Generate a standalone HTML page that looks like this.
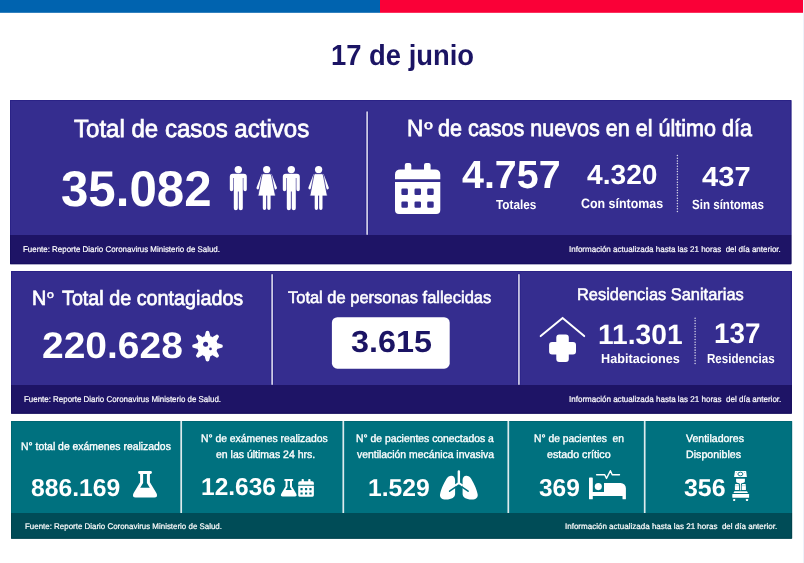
<!DOCTYPE html>
<html lang="es"><head><meta charset="utf-8"><title>Reporte Diario Coronavirus - 17 de junio</title>
<style>
html,body{margin:0;padding:0;background:#fff;}
body{width:804px;height:563px;position:relative;overflow:hidden;font-family:"Liberation Sans",sans-serif;}
.abs{position:absolute;}
.t{position:absolute;white-space:pre;line-height:1;transform-origin:0 0;display:block;text-rendering:geometricPrecision;}
svg{position:absolute;left:0;top:0;}
</style></head><body>
<svg width="804" height="563" viewBox="0 0 804 563">
<rect x="0" y="0" width="380" height="12.8" fill="#0063AF"/>
<rect x="380" y="0" width="423" height="12.8" fill="#FA0037"/>
<rect x="803" y="0" width="1" height="563" fill="#EDF2FB"/>
<rect x="10" y="100" width="781.4" height="135" fill="#352D8F"/>
<rect x="10" y="235" width="781.4" height="29.2" fill="#1E1466"/>
<rect x="11" y="271" width="780.9" height="114" fill="#352D8F"/>
<rect x="11" y="385" width="780.9" height="28.7" fill="#1E1466"/>
<rect x="11" y="421" width="781.1" height="92" fill="#00717F"/>
<rect x="11" y="513" width="781.1" height="25.7" fill="#004C57"/>
<g fill="none" stroke-width="1">
<path d="M10.5,235 V100.5 H790.9 V235" stroke="#2A2286"/>
<path d="M10.5,235 V263.7 H790.9 V235" stroke="#170F5F"/>
<path d="M11.5,385 V271.5 H791.4 V385" stroke="#2A2286"/>
<path d="M11.5,385 V413.2 H791.4 V385" stroke="#170F5F"/>
<path d="M11.5,513 V421.5 H791.6 V513" stroke="#006673"/>
<path d="M11.5,513 V538.2 H791.6 V513" stroke="#00434D"/>
</g>
<rect x="365.3" y="110.4" width="3.65" height="124.6" rx="1.6" fill="#2C2488"/>
<rect x="270.3" y="273.2" width="3.65" height="111.8" rx="1.6" fill="#2C2488"/>
<rect x="517.1" y="273.2" width="3.65" height="111.8" rx="1.6" fill="#2C2488"/>
<rect x="366.3" y="111.2" width="1.65" height="123.8" rx="0.8" fill="#D6D4EB"/>
<rect x="271.3" y="274" width="1.65" height="111" rx="0.8" fill="#D6D4EB"/>
<rect x="518.1" y="274" width="1.65" height="111" rx="0.8" fill="#D6D4EB"/>
<rect x="180.35" y="421" width="1.7" height="92" fill="#DDEBED"/>
<rect x="342.45" y="421" width="1.7" height="92" fill="#DDEBED"/>
<rect x="507.45" y="421" width="1.7" height="92" fill="#DDEBED"/>
<rect x="643.85" y="421" width="1.7" height="92" fill="#DDEBED"/>
<rect x="331.9" y="317.2" width="117.8" height="51.5" rx="5.5" fill="#fff"/>
</svg>
<svg width="804" height="563" viewBox="0 0 804 563">
<defs>
<g id="man" fill="#fff">
<circle cx="0" cy="169.6" r="3.7"/>
<path d="M-5.5,173.7 H5.5 A3,3 0 0 1 8.5,176.7 V189.5 A1.7,1.7 0 0 1 5.1,189.5 V178 H4.5 V208.2 A1.9,1.9 0 0 1 0.45,208.2 V191.5 H-0.45 V208.2 A1.9,1.9 0 0 1 -4.5,208.2 V178 H-5.1 V189.5 A1.7,1.7 0 0 1 -8.5,189.5 V176.7 A3,3 0 0 1 -5.5,173.7 Z"/>
</g>
<g id="woman" fill="#fff">
<circle cx="0" cy="169.6" r="3.65"/>
<path d="M-4.1,175.4 L-8.9,188 M4.1,175.4 L8.9,188" stroke="#fff" stroke-width="2.7" stroke-linecap="round" fill="none"/>
<path d="M-3.2,173.7 H3.2 A1.6,1.6 0 0 1 4.7,174.9 L8.8,196 H-8.8 L-4.7,174.9 A1.6,1.6 0 0 1 -3.2,173.7 Z" stroke="#352D8F" stroke-width="0.8"/>
<path d="M-3.9,195 H-0.55 V208.3 A1.67,1.67 0 0 1 -3.9,208.3 Z M0.55,195 H3.9 V208.3 A1.67,1.67 0 0 1 0.55,208.3 Z"/>
</g>
<g id="cal">
<path fill="#fff" d="M404.8,165 A2,2 0 0 1 406.8,163 H409.3 A2,2 0 0 1 411.3,165 V169.4 H424 V165 A2,2 0 0 1 426,163 H428.6 A2,2 0 0 1 430.6,165 V169.4 H435.3 A5,5 0 0 1 440.3,174.4 V179.3 H395 V174.4 A5,5 0 0 1 400,169.4 H404.8 Z"/>
<path fill="#fff" fill-rule="evenodd" d="M395,181.9 H440.3 V210 A4,4 0 0 1 436.3,214 H399 A4,4 0 0 1 395,210 Z
M402.6,188.6 h4.1 a1.2,1.2 0 0 1 1.2,1.2 v3.9 a1.2,1.2 0 0 1 -1.2,1.2 h-4.1 a1.2,1.2 0 0 1 -1.2,-1.2 v-3.9 a1.2,1.2 0 0 1 1.2,-1.2 Z
M415.7,188.6 h4.1 a1.2,1.2 0 0 1 1.2,1.2 v3.9 a1.2,1.2 0 0 1 -1.2,1.2 h-4.1 a1.2,1.2 0 0 1 -1.2,-1.2 v-3.9 a1.2,1.2 0 0 1 1.2,-1.2 Z
M428.4,188.6 h4.1 a1.2,1.2 0 0 1 1.2,1.2 v3.9 a1.2,1.2 0 0 1 -1.2,1.2 h-4.1 a1.2,1.2 0 0 1 -1.2,-1.2 v-3.9 a1.2,1.2 0 0 1 1.2,-1.2 Z
M402.6,201.4 h4.1 a1.2,1.2 0 0 1 1.2,1.2 v3.9 a1.2,1.2 0 0 1 -1.2,1.2 h-4.1 a1.2,1.2 0 0 1 -1.2,-1.2 v-3.9 a1.2,1.2 0 0 1 1.2,-1.2 Z
M415.7,201.4 h4.1 a1.2,1.2 0 0 1 1.2,1.2 v3.9 a1.2,1.2 0 0 1 -1.2,1.2 h-4.1 a1.2,1.2 0 0 1 -1.2,-1.2 v-3.9 a1.2,1.2 0 0 1 1.2,-1.2 Z
M428.4,201.4 h4.1 a1.2,1.2 0 0 1 1.2,1.2 v3.9 a1.2,1.2 0 0 1 -1.2,1.2 h-4.1 a1.2,1.2 0 0 1 -1.2,-1.2 v-3.9 a1.2,1.2 0 0 1 1.2,-1.2 Z"/>
</g>
<path id="flask" fill="#fff" fill-rule="evenodd" d="M139.5,471 h11 a1.45,1.45 0 0 1 0,2.9 h-0.6 V482.3 L156.5,493.2 Q158.3,497.4 154.3,497.4 H135.7 Q131.7,497.4 133.5,493.2 L140.1,482.3 V473.9 h-0.6 a1.45,1.45 0 0 1 0,-2.9 Z M143.1,473.9 H146.9 V483 L149.8,487.8 H140.2 L143.1,483 Z"/>
</defs>
<!-- people -->
<use href="#man" x="238.3"/><use href="#woman" x="266.7"/><use href="#man" x="291.3"/><use href="#woman" x="318.6"/>
<!-- calendar -->
<use href="#cal"/>
<!-- dotted dividers -->
<line x1="677.4" y1="155.6" x2="677.4" y2="212.4" stroke="#fff" stroke-width="1.5" stroke-dasharray="0.01,2.65" stroke-linecap="round" opacity="0.8"/>
<line x1="695.1" y1="318.2" x2="695.1" y2="365" stroke="#fff" stroke-width="1.5" stroke-dasharray="0.01,2.65" stroke-linecap="round" opacity="0.8"/>
<!-- virus -->
<g fill="#fff" transform="translate(207.5,346.1)">
<circle r="10.3"/>
<g id="spk"><path d="M-3,-9.6 L-1.95,-13.4 A1.95,1.95 0 0 1 1.95,-13.4 L3,-9.6 Z"/></g>
<use href="#spk" transform="rotate(45)"/><use href="#spk" transform="rotate(90)"/><use href="#spk" transform="rotate(135)"/><use href="#spk" transform="rotate(180)"/><use href="#spk" transform="rotate(225)"/><use href="#spk" transform="rotate(270)"/><use href="#spk" transform="rotate(315)"/>
<circle cx="-1.9" cy="-1.9" r="2.5" fill="#352D8F"/><circle cx="3" cy="2.8" r="1.3" fill="#352D8F"/>
</g>
<!-- house + cross -->
<path d="M540.7,336.1 L562.6,318 L584.2,336.1" fill="none" stroke="#fff" stroke-width="2" stroke-linecap="round" stroke-linejoin="miter"/>
<path fill="#fff" d="M559.3,334.5 H565.8 A3,3 0 0 1 568.8,337.5 V342 H573 A3,3 0 0 1 576,345 V351.4 A3,3 0 0 1 573,354.4 H568.8 V358.9 A3,3 0 0 1 565.8,361.9 H559.3 A3,3 0 0 1 556.3,358.9 V354.4 H552.1 A3,3 0 0 1 549.1,351.4 V345 A3,3 0 0 1 552.1,342 H556.3 V337.5 A3,3 0 0 1 559.3,334.5 Z"/>
<!-- flask big -->
<use href="#flask"/>
<!-- flask small + calendar small -->
<use href="#flask" transform="translate(280.9,479.1) scale(0.655) translate(-133,-471)"/>
<use href="#cal" transform="translate(298.2,479.1) scale(0.346) translate(-395,-163)"/>
<!-- lungs -->
<g fill="#fff">
<path id="lung" d="M451,475.7 C453.6,475.5 455.1,477.5 455.1,480 L455.1,494 C455.1,497 452,499.5 446,499.6 C441.5,499.6 439.4,497.5 440.1,494 C441,489 445,480.5 447.5,477.5 C448.5,476.3 449.8,475.8 451,475.7 Z"/>
<use href="#lung" transform="translate(917.7,0) scale(-1,1)"/>
<path d="M449.6,491.2 L458.85,484.8 L468.1,491.2" fill="none" stroke="#00717F" stroke-width="1.5" stroke-linecap="round"/>
<path d="M458.85,471.2 V482.8 M458.85,482.8 L454,486 M458.85,482.8 L463.7,486" fill="none" stroke="#00717F" stroke-width="3.6" stroke-linecap="round" opacity="0"/>
<path d="M458.85,471.4 V483" fill="none" stroke="#fff" stroke-width="2.4" stroke-linecap="round"/>
<path d="M458.85,483 L455,485.6 M458.85,483 L462.7,485.6" fill="none" stroke="#fff" stroke-width="2" stroke-linecap="butt"/>
</g>
<!-- bed -->
<g fill="#fff">
<path d="M589,478.2 A0.7,0.7 0 0 1 589.7,477.5 H592.1 A0.7,0.7 0 0 1 592.8,478.2 V492.1 H604 V483 H620.6 A5.3,5.3 0 0 1 625.9,488.3 V498.7 A0.6,0.6 0 0 1 625.3,499.3 H623.1 A0.6,0.6 0 0 1 622.5,498.7 V496 H592.8 V498.7 A0.6,0.6 0 0 1 592.2,499.3 H589.6 A0.6,0.6 0 0 1 589,498.7 Z"/>
<circle cx="598.3" cy="486.6" r="3.55"/>
<path d="M596.6,474.7 H604.7 L606.5,478.4 L610.4,470.7 L612.2,474.7 H619.5" fill="none" stroke="#fff" stroke-width="1.4" stroke-linecap="round" stroke-linejoin="round"/>
</g>
<!-- ventilator -->
<g fill="#fff">
<path d="M735,470.9 H746.1 L746.9,477.1 H734.1 Z"/>
<ellipse cx="740.4" cy="474" rx="2.5" ry="1.8" fill="none" stroke="#00717F" stroke-width="0.9"/>
<path d="M736.1,478.8 H744.9 V481.5 Q744.9,482.6 743.6,482.7 L741.6,483.2 Q740.9,483.5 740.9,484.5 V490.3 H739.9 V484.5 Q739.9,483.5 739.2,483.2 L737.2,482.7 Q736.1,482.6 736.1,481.5 Z"/>
<path d="M735.3,484.1 H738.6 L739,485.6 V490 H734.9 V485.6 Z M742.1,484.1 H745.5 L745.9,485.6 V490 H741.7 V485.6 Z"/>
<path d="M734.9,485.75 H739 M741.7,485.75 H745.9" stroke="#00717F" stroke-width="0.5" opacity="0.55" fill="none"/>
<circle cx="736.2" cy="472.6" r="0.35" fill="#00717F"/><circle cx="744.7" cy="472.6" r="0.35" fill="#00717F"/>
<path d="M734.4,491.3 H747 L748,493 H733.4 Z"/>
<rect x="732.3" y="494" width="16.8" height="3.7" rx="0.5"/>
<rect x="733.1" y="499" width="2.1" height="2" rx="0.4"/><rect x="745.9" y="499" width="2.2" height="2" rx="0.4"/>
</g>
</svg>

<div class="abs" id="txt" style="left:0;top:0;width:804px;height:563px;will-change:transform;">
<span class="t" style="left:330.76px;top:42.18px;font-size:29.08px;font-weight:bold;color:#1B1464;transform:scaleX(0.9420);">17 de junio</span>
<span class="t" style="left:73.52px;top:117.67px;font-size:24.85px;font-weight:normal;color:#fff;transform:scaleX(0.9677);-webkit-text-stroke:0.75px #fff;">Total de casos activos</span>
<span class="t" style="left:60.92px;top:163.76px;font-size:50.29px;font-weight:bold;color:#fff;transform:scaleX(0.9789);">35.082</span>
<span class="t" style="left:406.80px;top:117.01px;font-size:23.40px;font-weight:normal;color:#fff;transform:scaleX(0.9596);-webkit-text-stroke:0.75px #fff;">N</span>
<span class="t" style="left:423.56px;top:119.00px;font-size:12.59px;font-weight:normal;color:#fff;transform:scaleX(1.2740);-webkit-text-stroke:0.6px #fff;">o</span>
<span class="t" style="left:438.04px;top:117.01px;font-size:23.40px;font-weight:normal;color:#fff;transform:scaleX(0.9215);-webkit-text-stroke:0.75px #fff;">de casos nuevos en el último día</span>
<span class="t" style="left:462.41px;top:155.51px;font-size:39.40px;font-weight:bold;color:#fff;transform:scaleX(1.0003);">4.757</span>
<span class="t" style="left:496.08px;top:197.88px;font-size:13.08px;font-weight:bold;color:#fff;transform:scaleX(0.9000);">Totales</span>
<span class="t" style="left:586.72px;top:160.82px;font-size:27.51px;font-weight:bold;color:#fff;transform:scaleX(1.0242);">4.320</span>
<span class="t" style="left:581.30px;top:196.51px;font-size:13.52px;font-weight:bold;color:#fff;transform:scaleX(0.9191);">Con síntomas</span>
<span class="t" style="left:701.61px;top:163.22px;font-size:27.51px;font-weight:bold;color:#fff;transform:scaleX(1.0599);">437</span>
<span class="t" style="left:691.57px;top:198.43px;font-size:13.37px;font-weight:bold;color:#fff;transform:scaleX(0.8657);">Sin síntomas</span>
<span class="t" style="left:23.16px;top:245.96px;font-size:8.28px;font-weight:normal;color:#fff;transform:scaleX(0.9592);-webkit-text-stroke:0.2px #fff;">Fuente: Reporte Diario Coronavirus Ministerio de Salud.</span>
<span class="t" style="left:569.18px;top:245.96px;font-size:8.28px;font-weight:normal;color:#fff;transform:scaleX(0.9685);-webkit-text-stroke:0.2px #fff;">Información actualizada hasta las 21 horas  del día anterior.</span>
<span class="t" style="left:32.01px;top:288.76px;font-size:20.64px;font-weight:normal;color:#fff;transform:scaleX(0.9605);-webkit-text-stroke:0.68px #fff;">N</span>
<span class="t" style="left:47.41px;top:290.00px;font-size:10.58px;font-weight:normal;color:#fff;transform:scaleX(1.1614);-webkit-text-stroke:0.5px #fff;">o</span>
<span class="t" style="left:61.90px;top:288.76px;font-size:20.64px;font-weight:normal;color:#fff;transform:scaleX(0.9580);-webkit-text-stroke:0.68px #fff;">Total de contagiados</span>
<span class="t" style="left:42.43px;top:327.88px;font-size:36.96px;font-weight:bold;color:#fff;transform:scaleX(1.0545);">220.628</span>
<span class="t" style="left:287.97px;top:289.97px;font-size:16.86px;font-weight:normal;color:#fff;transform:scaleX(0.9767);-webkit-text-stroke:0.55px #fff;">Total de personas fallecidas</span>
<span class="t" style="left:350.75px;top:327.68px;font-size:30.37px;font-weight:bold;color:#1B1464;transform:scaleX(1.0656);">3.615</span>
<span class="t" style="left:576.79px;top:286.87px;font-size:16.86px;font-weight:normal;color:#fff;transform:scaleX(0.9720);-webkit-text-stroke:0.55px #fff;">Residencias Sanitarias</span>
<span class="t" style="left:598.41px;top:321.33px;font-size:28.08px;font-weight:bold;color:#fff;transform:scaleX(1.0034);">11.301</span>
<span class="t" style="left:601.14px;top:352.36px;font-size:13.23px;font-weight:bold;color:#fff;transform:scaleX(0.9574);">Habitaciones</span>
<span class="t" style="left:714.13px;top:319.67px;font-size:28.51px;font-weight:bold;color:#fff;transform:scaleX(0.9771);">137</span>
<span class="t" style="left:707.40px;top:352.36px;font-size:13.23px;font-weight:bold;color:#fff;transform:scaleX(0.8759);">Residencias</span>
<span class="t" style="left:24.36px;top:394.73px;font-size:8.43px;font-weight:normal;color:#fff;transform:scaleX(0.9417);-webkit-text-stroke:0.2px #fff;">Fuente: Reporte Diario Coronavirus Ministerio de Salud.</span>
<span class="t" style="left:569.28px;top:394.73px;font-size:8.43px;font-weight:normal;color:#fff;transform:scaleX(0.9528);-webkit-text-stroke:0.2px #fff;">Información actualizada hasta las 21 horas  del día anterior.</span>
<span class="t" style="left:20.87px;top:441.71px;font-size:11.05px;font-weight:normal;color:#fff;transform:scaleX(0.9415);-webkit-text-stroke:0.36px #fff;">N° total de exámenes realizados</span>
<span class="t" style="left:31.26px;top:477.18px;font-size:24.50px;font-weight:bold;color:#fff;transform:scaleX(1.0076);">886.169</span>
<span class="t" style="left:200.87px;top:433.83px;font-size:10.90px;font-weight:normal;color:#fff;transform:scaleX(0.9499);-webkit-text-stroke:0.36px #fff;">N° de exámenes realizados</span>
<span class="t" style="left:216.48px;top:449.63px;font-size:10.90px;font-weight:normal;color:#fff;transform:scaleX(0.9635);-webkit-text-stroke:0.36px #fff;">en las últimas 24 hrs.</span>
<span class="t" style="left:201.13px;top:476.18px;font-size:24.50px;font-weight:bold;color:#fff;transform:scaleX(1.0003);">12.636</span>
<span class="t" style="left:356.27px;top:434.13px;font-size:10.90px;font-weight:normal;color:#fff;transform:scaleX(0.9512);-webkit-text-stroke:0.36px #fff;">N° de pacientes conectados a</span>
<span class="t" style="left:357.10px;top:450.13px;font-size:10.90px;font-weight:normal;color:#fff;transform:scaleX(0.9544);-webkit-text-stroke:0.36px #fff;">ventilación mecánica invasiva</span>
<span class="t" style="left:368.32px;top:477.18px;font-size:24.50px;font-weight:bold;color:#fff;transform:scaleX(1.0076);">1.529</span>
<span class="t" style="left:533.58px;top:433.83px;font-size:10.90px;font-weight:normal;color:#fff;transform:scaleX(0.9458);-webkit-text-stroke:0.36px #fff;">N° de pacientes  en</span>
<span class="t" style="left:546.77px;top:449.73px;font-size:10.90px;font-weight:normal;color:#fff;transform:scaleX(0.9828);-webkit-text-stroke:0.36px #fff;">estado crítico</span>
<span class="t" style="left:538.91px;top:477.18px;font-size:24.50px;font-weight:bold;color:#fff;transform:scaleX(1.0000);">369</span>
<span class="t" style="left:686.40px;top:433.76px;font-size:10.76px;font-weight:normal;color:#fff;transform:scaleX(0.9800);-webkit-text-stroke:0.36px #fff;">Ventiladores</span>
<span class="t" style="left:686.15px;top:449.66px;font-size:10.76px;font-weight:normal;color:#fff;transform:scaleX(0.9905);-webkit-text-stroke:0.36px #fff;">Disponibles</span>
<span class="t" style="left:684.40px;top:477.18px;font-size:24.50px;font-weight:bold;color:#fff;transform:scaleX(1.0177);">356</span>
<span class="t" style="left:25.26px;top:522.98px;font-size:8.14px;font-weight:normal;color:#fff;transform:scaleX(0.9758);-webkit-text-stroke:0.2px #fff;">Fuente: Reporte Diario Coronavirus Ministerio de Salud.</span>
<span class="t" style="left:564.88px;top:522.98px;font-size:8.14px;font-weight:normal;color:#fff;transform:scaleX(0.9868);-webkit-text-stroke:0.2px #fff;">Información actualizada hasta las 21 horas  del día anterior.</span>
</div>
</body></html>
